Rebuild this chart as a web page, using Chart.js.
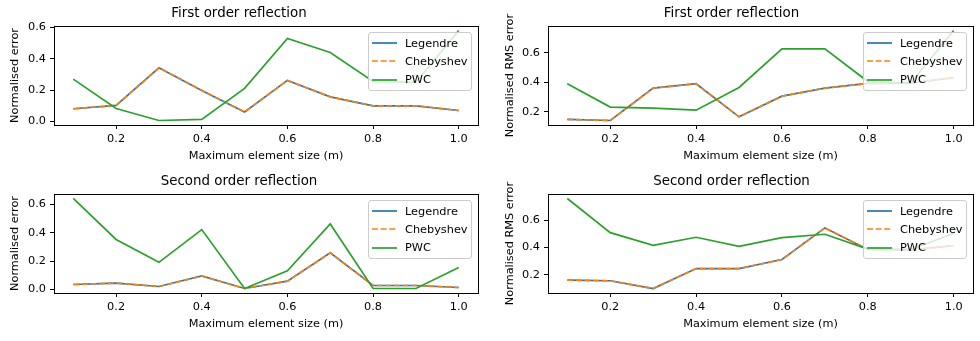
<!DOCTYPE html>
<html>
<head>
<meta charset="utf-8">
<script src="https://cdn.jsdelivr.net/npm/chart.js@4.4.1/dist/chart.umd.min.js"></script>
<style>
  html, body { margin:0; padding:0; background:#fff; }
  body { width:980px; height:341px; position:relative; overflow:hidden; font-family:'DejaVu Sans', sans-serif; }
  .cell { position:absolute; width:490px; height:168px; }
  .legend { position:absolute; top:32px; width:102px; padding:1px 0; background:rgba(255,255,255,0.8);
            border:1px solid #cccccc; border-radius:3px; font-size:11.3px; color:#000; }
  .legend .row { height:18.3px; display:flex; align-items:center; }
  .legend svg { margin-left:3px; margin-right:8px; }
</style>
</head>
<body>
<div class="cell" style="left:0;top:0"><canvas id="c1" width="490" height="168"></canvas></div>
<div class="cell" style="left:490px;top:0"><canvas id="c2" width="490" height="168"></canvas></div>
<div class="cell" style="left:0;top:168px"><canvas id="c3" width="490" height="168"></canvas></div>
<div class="cell" style="left:490px;top:168px"><canvas id="c4" width="490" height="168"></canvas></div>
<script>
// data
const xValues = [0.1, 0.2, 0.3, 0.4, 0.5, 0.6, 0.7, 0.8, 0.9, 1.0];
const seriesNames = ['Legendre', 'Chebyshev', 'PWC'];
const xLabel = 'Maximum element size (m)';

// first order, normalised error
const firstErrLegendre  = [0.081, 0.102, 0.343, 0.198, 0.060, 0.262, 0.157, 0.100, 0.100, 0.070];
const firstErrChebyshev = [0.081, 0.102, 0.343, 0.198, 0.060, 0.262, 0.157, 0.100, 0.100, 0.070];
const firstErrPWC       = [0.270, 0.083, 0.006, 0.013, 0.211, 0.530, 0.440, 0.255, 0.249, 0.581];
// first order, normalised RMS error
const firstRmsLegendre  = [0.148, 0.141, 0.360, 0.390, 0.166, 0.306, 0.360, 0.392, 0.394, 0.432];
const firstRmsChebyshev = [0.148, 0.141, 0.360, 0.390, 0.166, 0.306, 0.360, 0.392, 0.394, 0.432];
const firstRmsPWC       = [0.390, 0.232, 0.225, 0.211, 0.365, 0.627, 0.627, 0.405, 0.395, 0.751];
// second order, normalised error
const secondErrLegendre  = [0.035, 0.045, 0.021, 0.095, 0.007, 0.059, 0.258, 0.028, 0.028, 0.014];
const secondErrChebyshev = [0.035, 0.045, 0.021, 0.095, 0.007, 0.059, 0.258, 0.028, 0.028, 0.014];
const secondErrPWC       = [0.640, 0.352, 0.191, 0.421, 0.007, 0.132, 0.461, 0.007, 0.007, 0.154];
// second order, normalised RMS error
const secondRmsLegendre  = [0.160, 0.155, 0.098, 0.245, 0.245, 0.312, 0.545, 0.386, 0.383, 0.414];
const secondRmsChebyshev = [0.160, 0.155, 0.098, 0.245, 0.245, 0.312, 0.545, 0.386, 0.383, 0.414];
const secondRmsPWC       = [0.762, 0.510, 0.416, 0.476, 0.409, 0.473, 0.498, 0.389, 0.386, 0.504];

const colors = ['#1f77b4', '#ff7f0e', '#2ca02c'];
const FONT = "'DejaVu Sans', sans-serif";

// box around the axes, like matplotlib spines
const framePlugin = {
  id: 'frame',
  afterDatasetsDraw(chart) {
    const a = chart.chartArea, ctx = chart.ctx;
    ctx.save();
    ctx.strokeStyle = '#000';
    ctx.lineWidth = 1;
    ctx.strokeRect(Math.round(a.left) + 0.5, Math.round(a.top) + 0.5, Math.round(a.right - a.left), Math.round(a.bottom - a.top));
    ctx.restore();
  }
};

function pts(ys) { return xValues.map((x, i) => ({ x: x, y: ys[i] })); }

function makeChart(id, title, yLabel, series, left) {
  const all = series.flat();
  const lo = Math.min(...all), hi = Math.max(...all);
  const m = (hi - lo) * 0.05;
  const yWidth = left ? 54 : 58;
  const yTitlePad = left ? 8 : 13;

  const datasets = series.map((ys, i) => ({
    label: seriesNames[i],
    data: pts(ys),
    borderColor: colors[i],
    backgroundColor: colors[i],
    borderWidth: 1.7,
    borderDash: i === 1 ? [6, 2.6] : [],
    pointRadius: 0,
    fill: false,
    tension: 0,
    order: 3 - i
  }));

  const chart = new Chart(document.getElementById(id), {
    type: 'line',
    data: { datasets: datasets },
    plugins: [framePlugin],
    options: {
      responsive: false,
      devicePixelRatio: 1,
      animation: false,
      layout: { padding: { left: 0, right: left ? 12 : 7, top: 0, bottom: 0 } },
      plugins: {
        legend: { display: false },
        tooltip: { enabled: false },
        title: {
          display: true, text: title, color: '#000',
          font: { family: FONT, size: 13.4, weight: 'normal' },
          padding: { top: 5, bottom: 4.9 }
        }
      },
      scales: {
        x: {
          type: 'linear', min: 0.1 - 0.045, max: 1.0 + 0.045,
          afterFit: s => { s.height = 43; },
          grid: { drawOnChartArea: false, drawTicks: true, tickLength: 4, color: '#000' },
          border: { display: false },
          ticks: { stepSize: 0.2, includeBounds: false, autoSkip: false, maxRotation: 0,
                   padding: 3, color: '#000', font: { family: FONT, size: 11.3 },
                   callback: v => v.toFixed(1) },
          title: { display: true, text: xLabel, color: '#000', font: { family: FONT, size: 11.3 },
                   padding: { top: 0, bottom: 5.5 } }
        },
        y: {
          type: 'linear', min: lo - m, max: hi + m,
          afterFit: s => { s.width = yWidth; },
          grid: { drawOnChartArea: false, drawTicks: true, tickLength: 4, color: '#000' },
          border: { display: false },
          ticks: { stepSize: 0.2, includeBounds: false, padding: 4, color: '#000',
                   font: { family: FONT, size: 11.3 }, callback: v => v.toFixed(1) },
          title: { display: true, text: yLabel, color: '#000', font: { family: FONT, size: 11.3 },
                   padding: { top: yTitlePad, bottom: 0 } }
        }
      }
    }
  });

  // matplotlib style legend, upper right inside the axes
  const cell = document.getElementById(id).parentNode;
  const lg = document.createElement('div');
  lg.className = 'legend';
  lg.style.right = (490 - chart.chartArea.right + 6) + 'px';
  lg.innerHTML = seriesNames.map((n, i) =>
    `<div class="row"><svg width="25" height="4"><line x1="0" y1="2" x2="25" y2="2" stroke="${colors[i]}" stroke-width="1.7"${i === 1 ? ' stroke-dasharray="6 2.6"' : ''}/></svg><span>${n}</span></div>`
  ).join('');
  cell.appendChild(lg);
  return chart;
}

makeChart('c1', 'First order reflection', 'Normalised error',
  [firstErrLegendre, firstErrChebyshev, firstErrPWC], true);
makeChart('c2', 'First order reflection', 'Normalised RMS error',
  [firstRmsLegendre, firstRmsChebyshev, firstRmsPWC], false);
makeChart('c3', 'Second order reflection', 'Normalised error',
  [secondErrLegendre, secondErrChebyshev, secondErrPWC], true);
makeChart('c4', 'Second order reflection', 'Normalised RMS error',
  [secondRmsLegendre, secondRmsChebyshev, secondRmsPWC], false);
</script>
</body>
</html>
